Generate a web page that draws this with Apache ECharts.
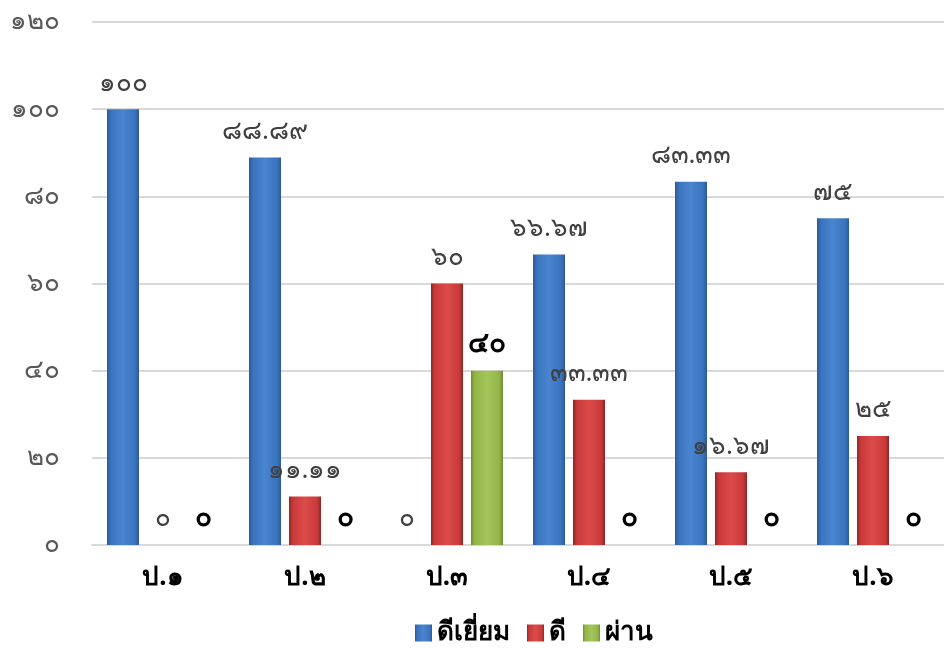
<!DOCTYPE html>
<html><head><meta charset="utf-8">
<script src="https://cdn.jsdelivr.net/npm/echarts@6/dist/echarts.min.js"></script>
<style>html,body{margin:0;padding:0;background:#fff}#c{width:944px;height:648px}</style>
</head><body><div id="c"></div>
<script>
const categories = ['ป.๑','ป.๒','ป.๓','ป.๔','ป.๕','ป.๖'];
const seriesNames = ['ดีเยี่ยม','ดี','ผ่าน'];
const excellent = [100, 88.89, 0, 66.67, 83.33, 75];
const good = [0, 11.11, 60, 33.33, 16.67, 25];
const pass = [0, 0, 40, 0, 0, 0];
const yTicks = [0, 20, 40, 60, 80, 100, 120];

const thaiDigits = '๐๑๒๓๔๕๖๗๘๙';
function toThai(v){ return String(v).replace(/[0-9]/g, d => thaiDigits[+d]); }

function grad(dark, mid, light){
  return new echarts.graphic.LinearGradient(0,0,1,0,[
    {offset:0,color:dark},{offset:0.12,color:mid},{offset:0.5,color:light},{offset:0.88,color:mid},{offset:1,color:dark}
  ]);
}
const FONT = "'Noto Sans', 'DejaVu Sans', sans-serif";
const colors = [
  grad('#2c5a96','#3a72bd','#4a85cf'),
  grad('#8e2624','#c9393a','#dc4b4a'),
  grad('#6f8c2e','#93b548','#a3c55a')
];
const solid = ['#3c72bc','#c83a39','#94b64a'];

function mk(name, data, i, bold){
  return {
    name, type:'bar', data, barWidth:32, barGap:'25%',
    itemStyle:{ color: colors[i] },
    label:{ show:true, position:'top', distance:13,
      formatter: p => toThai(p.value),
      color: bold ? '#000' : '#404040', fontWeight: bold ? 'bold' : 'normal',
      fontSize: bold ? 28 : 26, fontFamily: FONT }
  };
}

const chart = echarts.init(document.getElementById('c'));
chart.setOption({
  animation:false,
  color: solid,
  grid:{ left:92, right:0, top:22, bottom:103 },
  legend:{ data: seriesNames, left:415, top:619, padding:0, itemWidth:17, itemHeight:17, itemGap:17,
    icon:'rect', textStyle:{ fontSize:26, lineHeight:28, fontWeight:'bold', color:'#000', fontFamily:FONT } },
  xAxis:{ type:'category', data: categories,
    axisLine:{ lineStyle:{ color:'#d9d9d9', width:2 } }, axisTick:{ show:false },
    axisLabel:{ fontSize:26, fontWeight:'bold', color:'#000', margin:20, fontFamily:FONT } },
  yAxis:{ type:'value', min: yTicks[0], max: yTicks[yTicks.length-1], interval:20,
    axisLine:{ show:false }, axisTick:{ show:false },
    splitLine:{ lineStyle:{ color:'#d9d9d9', width:2 } },
    axisLabel:{ formatter: v => toThai(v), fontSize:26, color:'#595959', margin:32, fontFamily:FONT } },
  series:[ mk(seriesNames[0], excellent, 0, false), mk(seriesNames[1], good, 1, false), mk(seriesNames[2], pass, 2, true) ]
});
</script></body></html>
